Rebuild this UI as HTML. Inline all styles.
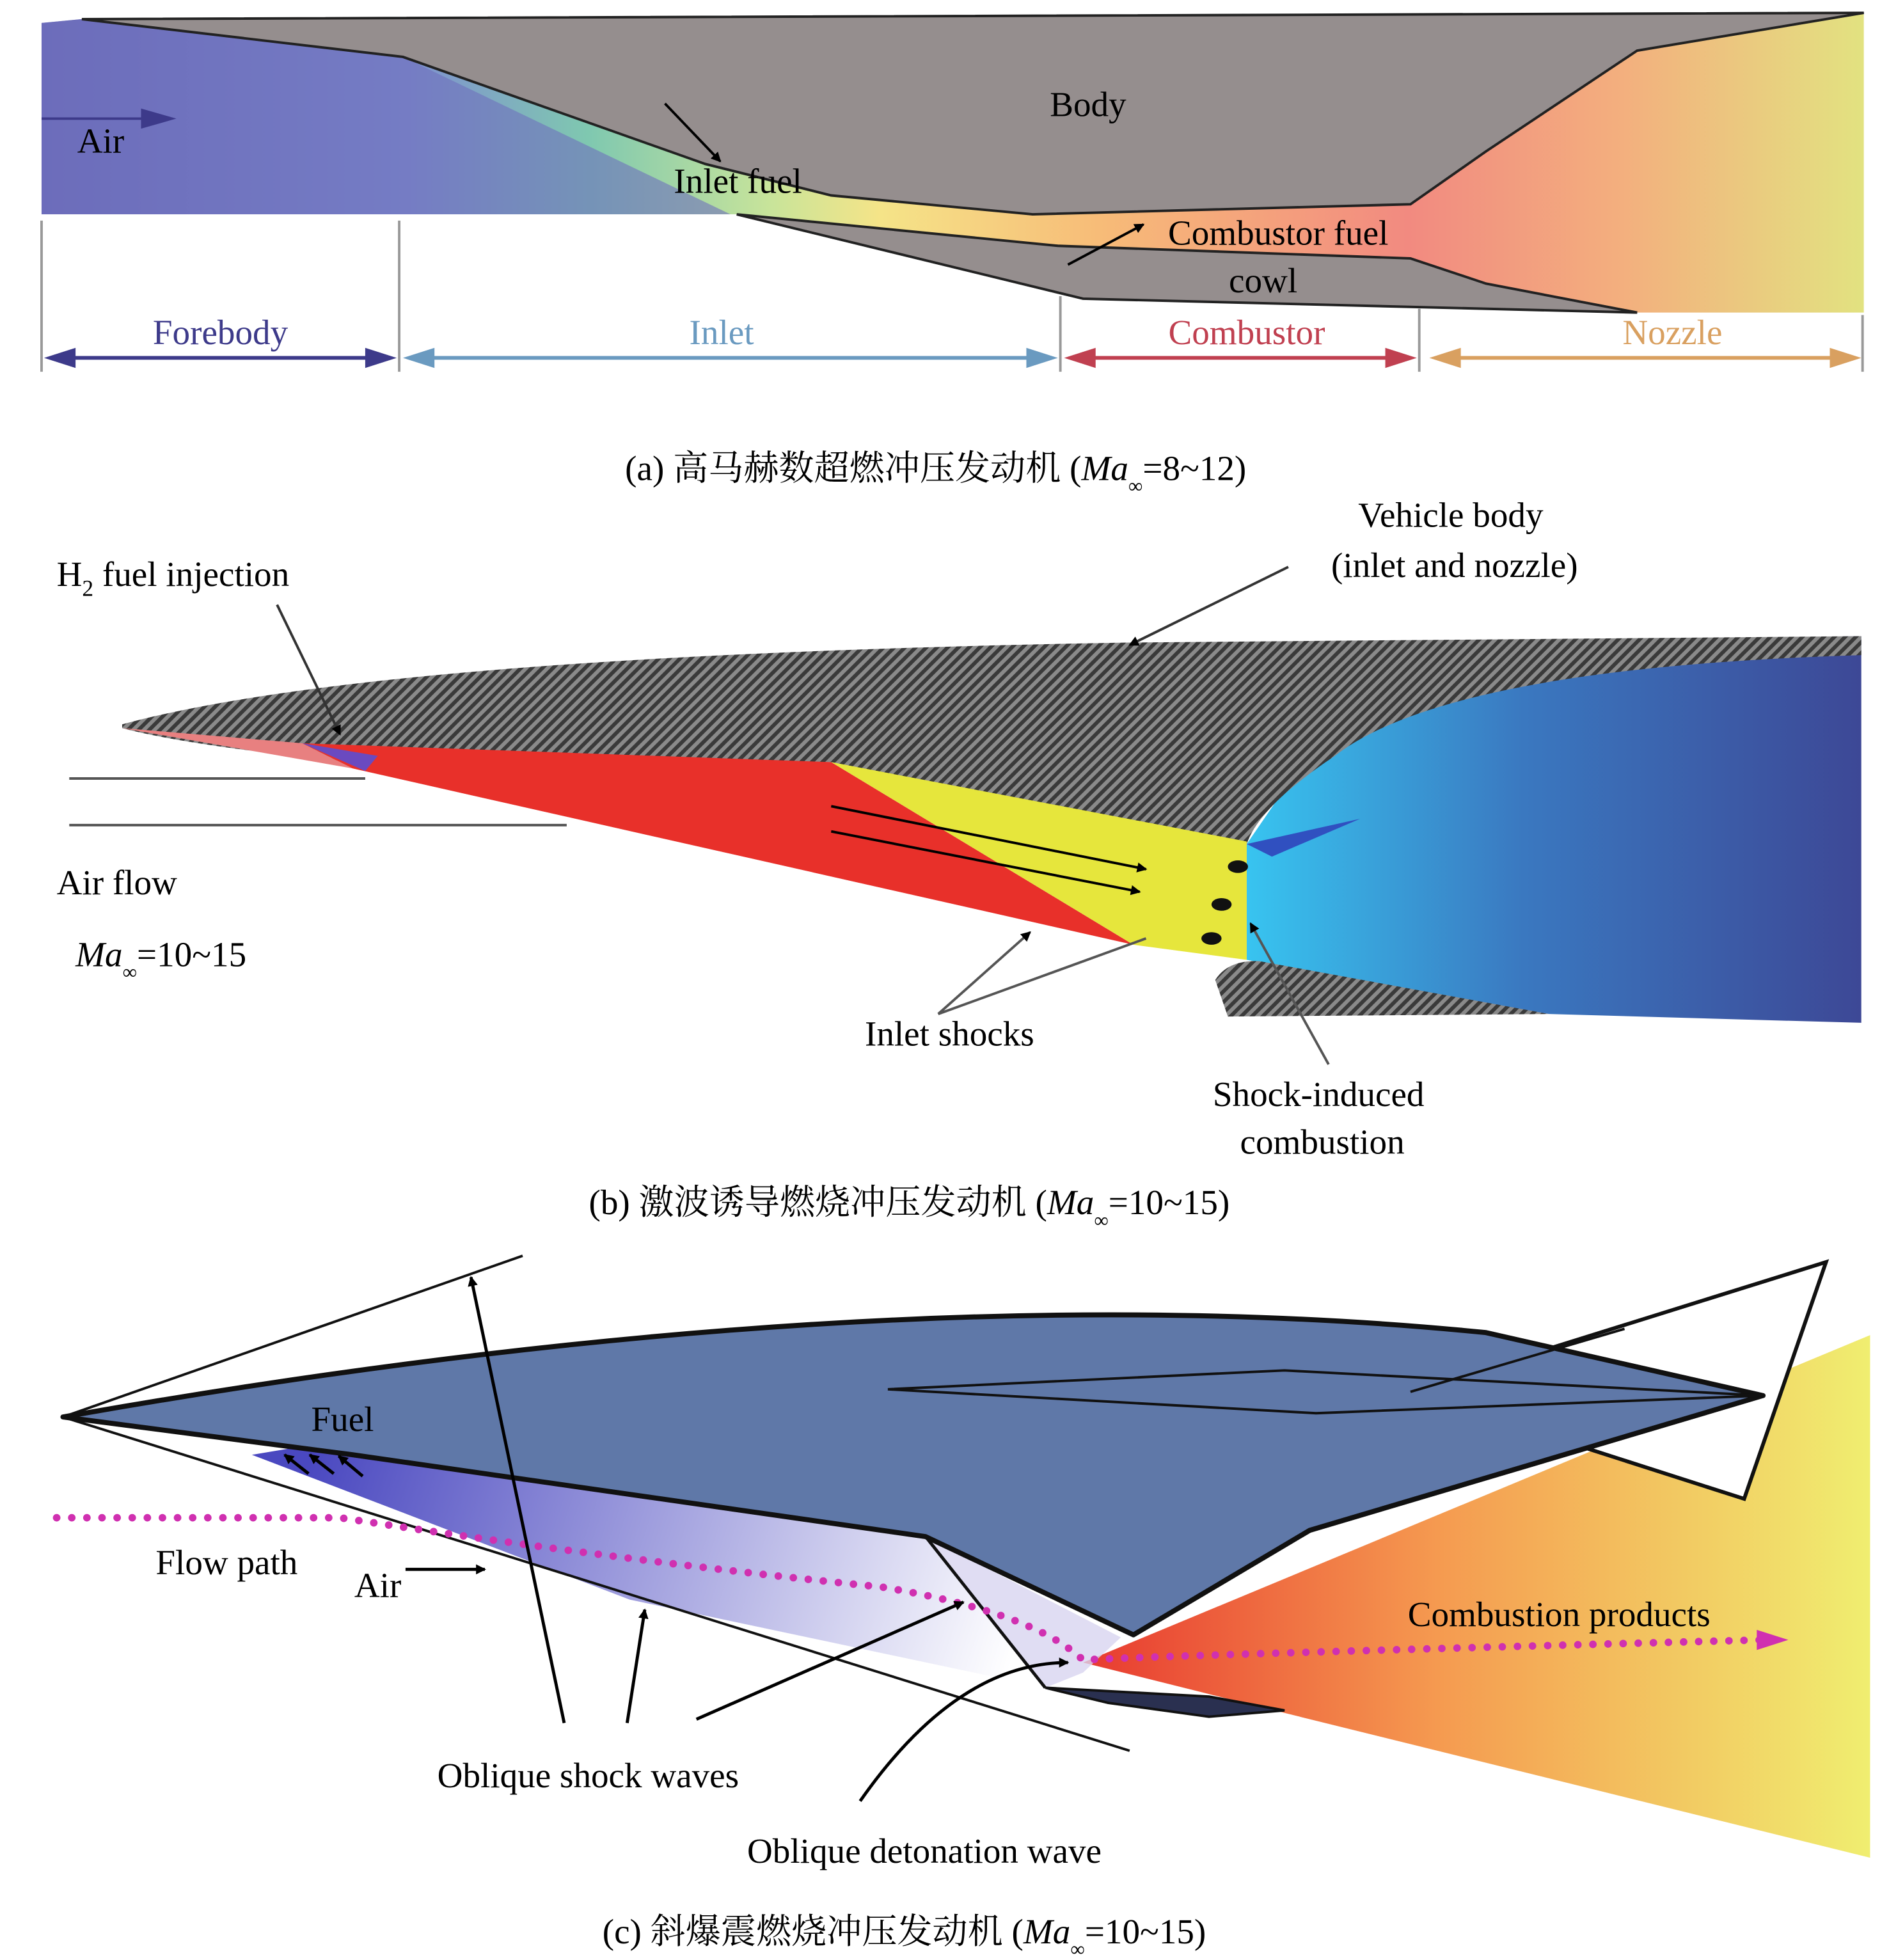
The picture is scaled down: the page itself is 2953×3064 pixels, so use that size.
<!DOCTYPE html>
<html><head><meta charset="utf-8"><style>
html,body{margin:0;padding:0;background:#fff;}
svg{display:block;}
text{font-family:"Liberation Serif","Noto Serif CJK SC",serif;}
</style></head><body>
<svg width="2953" height="3064" viewBox="0 0 1500 1556" xmlns="http://www.w3.org/2000/svg">
<defs>
<linearGradient id="ga" x1="33" y1="0" x2="1480" y2="0" gradientUnits="userSpaceOnUse">
<stop offset="0" stop-color="#6a68b8"/><stop offset="0.2" stop-color="#7f8fd0"/><stop offset="0.3" stop-color="#7fc8b0"/><stop offset="0.4" stop-color="#c8e49a"/><stop offset="0.46" stop-color="#f5e488"/><stop offset="0.58" stop-color="#f7bc78"/><stop offset="0.75" stop-color="#f28a80"/><stop offset="0.87" stop-color="#f3b07e"/><stop offset="1" stop-color="#e2e280"/>
</linearGradient>
<pattern id="hatch" width="6" height="6" patternUnits="userSpaceOnUse" patternTransform="rotate(45)">
<rect width="6" height="6" fill="#8a8a8a"/><rect width="3" height="6" fill="#3a3a3a"/></pattern>
<linearGradient id="gb" x1="990" y1="0" x2="1478" y2="0" gradientUnits="userSpaceOnUse">
<stop offset="0" stop-color="#38c4f0"/><stop offset="0.45" stop-color="#3a78c0"/><stop offset="1" stop-color="#3d4896"/></linearGradient>
<linearGradient id="gc" x1="860" y1="0" x2="1485" y2="0" gradientUnits="userSpaceOnUse">
<stop offset="0" stop-color="#e83a30"/><stop offset="0.45" stop-color="#f59a50"/><stop offset="1" stop-color="#f0ee70"/></linearGradient>
<linearGradient id="gp" x1="250" y1="1150" x2="800" y2="1330" gradientUnits="userSpaceOnUse">
<stop offset="0" stop-color="#4a48c0"/><stop offset="1" stop-color="#ffffff"/></linearGradient>
<marker id="ar" markerWidth="8" markerHeight="8" refX="7" refY="4" orient="auto" markerUnits="userSpaceOnUse" viewBox="0 0 8 8"><path d="M0,0L8,4L0,8Z" fill="#000"/></marker>
</defs>

<!-- Panel a -->
<polygon points="33,18 65,15 320,45 560,130 660,155 820,170 1120,162 1180,120 1300,40 1480,10 1480,248 1300,248 1180,225 1120,205 840,197 585,170 33,170" fill="url(#ga)"/>
<polygon points="33,18 65,15 320,45 580,170 33,170" fill="#6e70bd" opacity="0.6"/>
<polygon points="65,15 1480,10 1300,40 1180,120 1120,162 820,170 660,155 560,130 320,45" fill="#958e8e" stroke="#222" stroke-width="2"/>
<polygon points="585,170 840,195 1120,205 1180,225 1300,248 860,237" fill="#958e8e" stroke="#222" stroke-width="2"/>
<text x="864" y="92" font-size="28" text-anchor="middle">Body</text>
<text x="80" y="121" font-size="28" text-anchor="middle">Air</text>
<line x1="33" y1="94" x2="130" y2="94" stroke="#3d3a8a" stroke-width="2"/><path d="M140,94L112,86L112,102Z" fill="#3d3a8a"/>
<text x="586" y="153" font-size="28" text-anchor="middle">Inlet fuel</text>
<line x1="528" y1="82" x2="572" y2="128" stroke="#000" stroke-width="2" marker-end="url(#ar)"/>
<text x="1015" y="194" font-size="28" text-anchor="middle">Combustor fuel</text>
<line x1="848" y1="210" x2="908" y2="178" stroke="#000" stroke-width="2" marker-end="url(#ar)"/>
<text x="1003" y="232" font-size="28" text-anchor="middle">cowl</text>
<g stroke="#999" stroke-width="2"><line x1="33" y1="175" x2="33" y2="295"/><line x1="317" y1="175" x2="317" y2="295"/><line x1="842" y1="235" x2="842" y2="295"/><line x1="1127" y1="245" x2="1127" y2="295"/><line x1="1479" y1="250" x2="1479" y2="295"/></g>
<g stroke-width="3">
<line x1="45" y1="284" x2="305" y2="284" stroke="#3d3a8a"/><path d="M35,284L60,276L60,292Z M315,284L290,276L290,292Z" fill="#3d3a8a"/>
<line x1="332" y1="284" x2="828" y2="284" stroke="#6a9ac0"/><path d="M320,284L345,276L345,292Z M840,284L815,276L815,292Z" fill="#6a9ac0"/>
<line x1="857" y1="284" x2="1113" y2="284" stroke="#c04050"/><path d="M845,284L870,276L870,292Z M1125,284L1100,276L1100,292Z" fill="#c04050"/>
<line x1="1147" y1="284" x2="1466" y2="284" stroke="#d9a060"/><path d="M1135,284L1160,276L1160,292Z M1478,284L1453,276L1453,292Z" fill="#d9a060"/>
</g>
<text x="175" y="273" font-size="28" text-anchor="middle" fill="#3d3a8a">Forebody</text>
<text x="573" y="273" font-size="28" text-anchor="middle" fill="#6a9ac0">Inlet</text>
<text x="990" y="273" font-size="28" text-anchor="middle" fill="#c04050">Combustor</text>
<text x="1328" y="273" font-size="28" text-anchor="middle" fill="#d9a060">Nozzle</text>
<text x="743" y="381" font-size="28" text-anchor="middle">(a) 高马赫数超燃冲压发动机 (<tspan font-style="italic">Ma</tspan><tspan font-size="16" dy="10">∞</tspan><tspan dy="-10">=8~12)</tspan></text>

<!-- Panel b -->
<polygon points="990,670 990,762 1230,805 1478,812 1478,505 1100,510" fill="url(#gb)"/>
<path d="M97,575 Q300,520 900,510 L1478,505 L1478,520 Q1150,530 1060,600 Q1000,640 990,670 L660,605 L280,605 Q150,592 97,578 Z" fill="url(#hatch)"/>
<polygon points="240,590 660,605 900,750 280,610" fill="#e8302a"/>
<polygon points="97,578 240,590 280,610" fill="#e88080"/>
<polygon points="660,605 990,668 990,762 900,750" fill="#e6e63c"/>
<polygon points="240,590 300,600 290,612" fill="#6a4ac0"/>
<path d="M965,778 Q975,762 1000,763 L1230,805 L975,807 Z" fill="url(#hatch)"/>
<path d="M990,670 L1080,650 L1010,680 Z" fill="#3050c0"/>
<g stroke="#555" stroke-width="2"><line x1="55" y1="618" x2="290" y2="618"/><line x1="55" y1="655" x2="450" y2="655"/></g>
<g fill="#111"><ellipse cx="983" cy="688" rx="8" ry="5"/><ellipse cx="970" cy="718" rx="8" ry="5"/><ellipse cx="962" cy="745" rx="8" ry="5"/></g>
<text x="45" y="465" font-size="28">H<tspan font-size="18" dy="8">2</tspan><tspan dy="-8"> fuel injection</tspan></text>
<line x1="220" y1="480" x2="270" y2="583" stroke="#333" stroke-width="2" marker-end="url(#ar)"/>
<text x="1152" y="418" font-size="28" text-anchor="middle">Vehicle body</text>
<text x="1155" y="458" font-size="28" text-anchor="middle">(inlet and nozzle)</text>
<line x1="1023" y1="450" x2="897" y2="512" stroke="#333" stroke-width="2" marker-end="url(#ar)"/>
<text x="45" y="710" font-size="28">Air flow</text>
<text x="60" y="767" font-size="28"><tspan font-style="italic">Ma</tspan><tspan font-size="16" dy="10">∞</tspan><tspan dy="-10">=10~15</tspan></text>
<g stroke="#000" stroke-width="2">
<line x1="660" y1="640" x2="910" y2="690" marker-end="url(#ar)"/>
<line x1="660" y1="660" x2="905" y2="708" marker-end="url(#ar)"/>
<line x1="745" y1="805" x2="818" y2="740" stroke="#555" marker-end="url(#ar)"/>
<line x1="745" y1="805" x2="910" y2="745" stroke="#555"/>
<line x1="1055" y1="845" x2="993" y2="733" stroke="#555" marker-end="url(#ar)"/>
</g>
<text x="754" y="830" font-size="28" text-anchor="middle">Inlet shocks</text>
<text x="1047" y="878" font-size="28" text-anchor="middle">Shock-induced</text>
<text x="1050" y="916" font-size="28" text-anchor="middle">combustion</text>
<text x="722" y="964" font-size="28" text-anchor="middle">(b) 激波诱导燃烧冲压发动机 (<tspan font-style="italic">Ma</tspan><tspan font-size="16" dy="10">∞</tspan><tspan dy="-10">=10~15)</tspan></text>

<!-- Panel c -->
<polygon points="860,1320 1485,1060 1485,1475 1020,1360" fill="url(#gc)"/>
<polygon points="230,1150 735,1220 830,1340 500,1270 200,1155" fill="url(#gp)"/>
<polygon points="735,1220 890,1300 860,1328 830,1340" fill="#d8d4f0" opacity="0.8"/>
<polygon points="1120,1105 1450,1002 1385,1190" fill="#fff" stroke="#111" stroke-width="3"/>
<path d="M50,1125 Q700,1010 1180,1058 L1400,1108 L1040,1215 L900,1298 L735,1220 L280,1155 Z" fill="#5f78a8" stroke="#111" stroke-width="4" stroke-linejoin="round"/>
<polyline points="705,1103 1020,1088 1400,1108 1045,1122 705,1103" fill="none" stroke="#111" stroke-width="2"/>
<line x1="1120" y1="1105" x2="1290" y2="1055" stroke="#111" stroke-width="2"/>
<line x1="735" y1="1220" x2="830" y2="1340" stroke="#111" stroke-width="2.5"/>
<polygon points="830,1340 960,1347 1020,1358 960,1363 880,1352" fill="#2a3050" stroke="#111" stroke-width="2"/>
<g stroke="#111" stroke-width="2"><line x1="50" y1="1125" x2="415" y2="997"/><line x1="50" y1="1125" x2="897" y2="1390"/></g>
<path d="M45,1205 L270,1205 Q500,1240 700,1260 Q820,1280 860,1318 Q900,1315 1400,1302" fill="none" stroke="#d030b0" stroke-width="6" stroke-dasharray="0 12" stroke-linecap="round"/>
<path d="M1420,1302L1395,1294L1395,1310Z" fill="#d030b0"/>
<g stroke="#000" stroke-width="2.5">
<line x1="448" y1="1368" x2="374" y2="1014" marker-end="url(#ar)"/>
<line x1="498" y1="1368" x2="512" y2="1278" marker-end="url(#ar)"/>
<line x1="553" y1="1365" x2="765" y2="1272" marker-end="url(#ar)"/>
<path d="M683,1430 Q760,1320 848,1320" fill="none" marker-end="url(#ar)"/>
<line x1="322" y1="1246" x2="385" y2="1246" marker-end="url(#ar)"/>
<line x1="245" y1="1170" x2="226" y2="1155" marker-end="url(#ar)"/>
<line x1="265" y1="1170" x2="246" y2="1155" marker-end="url(#ar)"/>
<line x1="288" y1="1172" x2="269" y2="1156" marker-end="url(#ar)"/>
</g>
<text x="272" y="1136" font-size="28" text-anchor="middle">Fuel</text>
<text x="180" y="1250" font-size="28" text-anchor="middle">Flow path</text>
<text x="300" y="1268" font-size="28" text-anchor="middle">Air</text>
<text x="1238" y="1291" font-size="28" text-anchor="middle">Combustion products</text>
<text x="467" y="1419" font-size="28" text-anchor="middle">Oblique shock waves</text>
<text x="734" y="1479" font-size="28" text-anchor="middle">Oblique detonation wave</text>
<text x="718" y="1543" font-size="28" text-anchor="middle">(c) 斜爆震燃烧冲压发动机 (<tspan font-style="italic">Ma</tspan><tspan font-size="16" dy="10">∞</tspan><tspan dy="-10">=10~15)</tspan></text>
</svg>
</body></html>
